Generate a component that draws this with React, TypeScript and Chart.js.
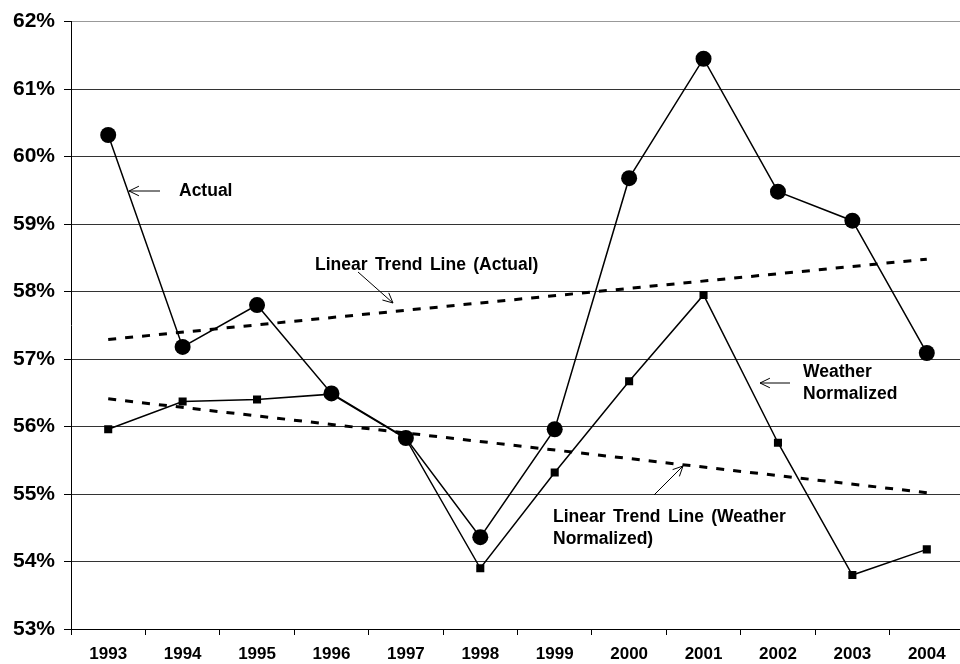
import React, { useEffect, useRef } from "react";
import { Chart, registerables } from "chart.js";

Chart.register(...registerables);

const years = ["1993", "1994", "1995", "1996", "1997", "1998", "1999", "2000", "2001", "2002", "2003", "2004"];
const actual = [60.32, 57.18, 57.8, 56.49, 55.83, 54.36, 55.96, 59.68, 61.45, 59.48, 59.05, 57.09];
const weatherNormalized = [55.96, 56.37, 56.4, 56.48, 55.82, 53.9, 55.32, 56.67, 57.95, 55.76, 53.8, 54.18];
const trendActual = [57.29, null, null, null, null, null, null, null, null, null, null, 58.48];
const trendWeather = [56.41, null, null, null, null, null, null, null, null, null, null, 55.02];
const yMin = 53;
const yMax = 62;

const FONT = "'Liberation Sans', Arial, Helvetica, sans-serif";

type Note = { lines: string[]; x: number; y: number; arrow: [number, number, number, number] };
const notes: Note[] = [
  { lines: ["Actual"], x: 179, y: 196, arrow: [160, 191, 129, 191] },
  { lines: ["Linear Trend Line (Actual)"], x: 315, y: 270, arrow: [358, 272, 393, 303] },
  { lines: ["Weather", "Normalized"], x: 803, y: 377, arrow: [790, 383, 760, 383] },
  { lines: ["Linear Trend Line (Weather", "Normalized)"], x: 553, y: 522, arrow: [654, 495, 683, 466] },
];

const annotationPlugin = {
  id: "notes",
  afterDraw(chart: any) {
    const ctx = chart.ctx as any;
    ctx.save();
    ctx.fillStyle = "#000";
    ctx.strokeStyle = "#000";
    ctx.font = `bold 17.5px ${FONT}`;
    ctx.textAlign = "left";
    ctx.textBaseline = "alphabetic";
    try {
      ctx.wordSpacing = "2.5px";
    } catch (e) {}
    for (const n of notes) {
      n.lines.forEach((t, i) => ctx.fillText(t, n.x, n.y + i * 22));
      const [x1, y1, x2, y2] = n.arrow;
      ctx.lineWidth = 1;
      ctx.beginPath();
      ctx.moveTo(x1, y1);
      ctx.lineTo(x2, y2);
      const ang = Math.atan2(y2 - y1, x2 - x1);
      const len = 11;
      const spread = 0.45;
      ctx.moveTo(x2 - len * Math.cos(ang - spread), y2 - len * Math.sin(ang - spread));
      ctx.lineTo(x2, y2);
      ctx.lineTo(x2 - len * Math.cos(ang + spread), y2 - len * Math.sin(ang + spread));
      ctx.stroke();
    }
    ctx.restore();
  },
};

export default function App() {
  const ref = useRef<HTMLCanvasElement | null>(null);
  useEffect(() => {
    if (!ref.current) return;
    const chart = new Chart(ref.current, {
      type: "line",
      data: {
        labels: years,
        datasets: [
          {
            label: "Actual",
            data: actual,
            borderColor: "#000",
            backgroundColor: "#000",
            borderWidth: 1.5,
            pointStyle: "circle",
            pointRadius: 8,
            pointBorderWidth: 0,
            tension: 0,
          },
          {
            label: "Weather Normalized",
            data: weatherNormalized,
            borderColor: "#000",
            backgroundColor: "#000",
            borderWidth: 1.5,
            pointStyle: "rect",
            pointRadius: 5.7,
            pointBorderWidth: 0,
            tension: 0,
          },
          {
            label: "Linear Trend Line (Actual)",
            data: trendActual,
            borderColor: "#000",
            borderWidth: 3,
            borderDash: [8, 9],
            pointRadius: 0,
            spanGaps: true,
          },
          {
            label: "Linear Trend Line (Weather Normalized)",
            data: trendWeather,
            borderColor: "#000",
            borderWidth: 3,
            borderDash: [8, 9],
            pointRadius: 0,
            spanGaps: true,
          },
        ],
      },
      options: {
        animation: false,
        responsive: false,
        devicePixelRatio: 1,
        layout: { padding: { top: 19, left: 0, right: 0, bottom: 0 } },
        plugins: { legend: { display: false }, tooltip: { enabled: false } },
        scales: {
          x: {
            type: "category",
            offset: true,
            grid: {
              offset: true,
              drawOnChartArea: false,
              drawTicks: true,
              tickLength: 6,
              color: "#000",
              tickColor: "#000",
            },
            border: { color: "#000", width: 1 },
            ticks: {
              color: "#000",
              font: { family: FONT, size: 17, weight: "bold" },
              padding: 9,
              maxRotation: 0,
              autoSkip: false,
            },
            afterFit: (s: any) => {
              s.height = 35;
            },
          },
          y: {
            min: yMin,
            max: yMax,
            grid: {
              color: (c: any) => (c.tick && c.tick.value === yMax ? "#999" : "#333"),
              tickColor: "#000",
              tickLength: 7,
            },
            border: { color: "#000", width: 1 },
            ticks: {
              stepSize: 1,
              color: "#000",
              padding: 9,
              font: { family: FONT, size: 21, weight: "bold" },
              callback: (v: any) => `${v}%`,
            },
            afterFit: (s: any) => {
              s.width = 71;
            },
          },
        },
      },
      plugins: [annotationPlugin],
    });
    return () => chart.destroy();
  }, []);
  return (
    <div style={{ position: "fixed", left: 0, top: 0, width: 960, height: 664, overflow: "hidden", background: "#fff" }}>
      <canvas ref={ref} width={972} height={664} style={{ display: "block", width: 972, height: 664 }} />
    </div>
  );
}
